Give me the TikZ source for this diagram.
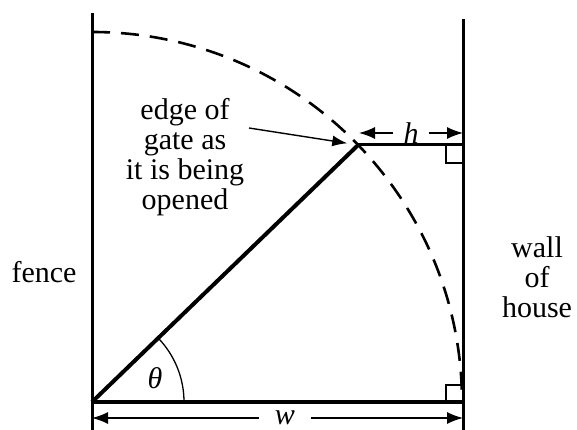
\documentclass[tikz,border=0pt]{standalone}
\usepackage{fontspec}
\setmainfont{Liberation Serif}
\usetikzlibrary{arrows.meta}

\begin{document}
\begin{tikzpicture}[x=1pt,y=1pt]
    % Define styles
    \tikzstyle{wallline} = [line width=3pt]
    \tikzstyle{gateline} = [line width=4pt]
    \tikzstyle{swing} = [line width=2.6pt, dash pattern=on 18pt off 11pt]
    \tikzstyle{sq} = [line width=1.3pt]
    \tikzstyle{dim} = [line width=1.4pt, -{Latex[length=16pt,width=12pt]}]
    \tikzstyle{pointer} = [line width=1.4pt, -{Latex[length=15pt,width=11pt]}]
    \tikzstyle{txt} = [font=\fontsize{30}{30}\selectfont, inner sep=0pt, align=center]

    \useasboundingbox (-92,-28) rectangle (485,402);

    % Corner points
    \coordinate (pivot) at (0,0);
    \coordinate (gateend) at (44:370);
    \coordinate (fencetop) at (0,389);
    \coordinate (fencefoot) at (0,-28);
    \coordinate (walltop) at (371,383);
    \coordinate (wallfoot) at (371,-28);
    \coordinate (wallbase) at (371,0);
    \coordinate (wallh) at (gateend -| wallbase);

    % Fence, wall and ground
    \draw[wallline] (fencetop) -- (fencefoot);
    \draw[wallline] (walltop) -- (wallfoot);
    \draw[gateline] (pivot) -- (wallbase);
    \draw[gateline] (pivot) -- (gateend);
    \draw[wallline] (gateend) -- (wallh);

    % Swing of the gate
    \draw[swing] (0,370) arc[start angle=90, end angle=0, radius=370];

    % Right angle marks
    \draw[sq] (wallbase) ++(-17,0) -- ++(0,17) -- ++(17,0);
    \draw[sq] (wallh) ++(-17,0) -- ++(0,-18) -- ++(17,0);

    % Angle
    \draw[sq] (92,0) arc[start angle=0, end angle=44, radius=92];
    \node[txt] (theta) at (63,24) {\textit{θ}};

    % Dimensions
    \coordinate (wl) at (0,-16);
    \coordinate (wr) at (371,-16);
    \node[txt, inner xsep=16pt] (w) at (193,-16) {\textit{w}};
    \draw[dim] (w) -- (wl);
    \draw[dim] (w) -- (wr);

    \coordinate (hl) at (267,269);
    \coordinate (hr) at (371,269);
    \node[txt, inner xsep=10pt] (h) at (319,269) {\textit{h}};
    \draw[dim] (h) -- (hl);
    \draw[dim] (h) -- (hr);

    % Labels (base = last line)
    \node[txt, anchor=base] (fence) at (-48,119) {fence};
    \node[txt, anchor=base] (house) at (445,84) {wall\\of\\house};
    \node[txt, anchor=base] (note) at (93,192) {edge of\\gate as\\it is being\\opened};
    \coordinate (notefrom) at (157,274);
    \draw[pointer, shorten >=11pt] (notefrom) -- (gateend);

\end{tikzpicture}
\end{document}
